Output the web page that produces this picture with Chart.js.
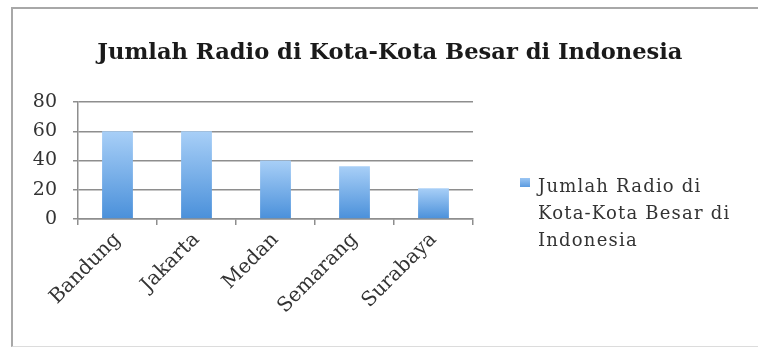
<!DOCTYPE html>
<html>
<head>
<meta charset="utf-8">
<script src="https://cdn.jsdelivr.net/npm/chart.js@4"></script>
<style>
    html, body { margin: 0; padding: 0; background: #fff; }
    #wrap { position: relative; width: 758px; height: 348px; overflow: hidden; }
    #frame {
        position: absolute; left: 11px; top: 7px; width: 760px; height: 340px;
        border-top: 2px solid #a8a8a8; border-left: 2px solid #a8a8a8;
        border-bottom: 1px solid #dcdcdc; box-sizing: border-box;
    }
    #moodChart { position: absolute; left: 0; top: 0; }
    #title {
        position: absolute; left: 11px; top: 37px; width: 758px; text-align: center;
        font-family: "DejaVu Serif", serif; font-weight: bold; font-size: 23px; line-height: 28px;
        color: #1a1a1a; white-space: nowrap;
    }
    #title span { display: inline-block; transform-origin: center; }
    #legend {
        position: absolute; left: 518px; top: 172px;
        font-family: "DejaVu Serif", serif; font-size: 18px; line-height: 27px; color: #333;
        letter-spacing: 1.2px;
    }
    #legend .box {
        position: absolute; left: 2px; top: 6px; width: 10px; height: 9px;
        background: linear-gradient(#9cc6f3, #5b9be0);
    }
    #legend .txt { margin-left: 20px; }
</style>
</head>
<body>
<div id="wrap">
    <div id="frame"></div>
    <canvas id="moodChart" width="758" height="348"></canvas>
    <div id="title"><span id="titleText"></span></div>
    <div id="legend"><span class="box"></span><div class="txt" id="legendText"></div></div>
</div>
<script>
const cities = ["Bandung", "Jakarta", "Medan", "Semarang", "Surabaya"];
const radioCounts = [60, 60, 40, 36, 21];
const yTicks = [0, 20, 40, 60, 80];
const chartTitle = "Jumlah Radio di Kota-Kota Besar di Indonesia";
const legendLines = ["Jumlah Radio di", "Kota-Kota Besar di", "Indonesia"];

document.getElementById("legendText").innerHTML = legendLines.join("<br>");

// title is stretched a bit wider, like the original
const titleSpan = document.getElementById("titleText");
titleSpan.textContent = chartTitle;
titleSpan.style.transform = "scaleX(" + (585 / titleSpan.offsetWidth).toFixed(3) + ")";

const serif = "'DejaVu Serif', serif";

// vertical gradient per bar, light on top
function barFill(context) {
    const chart = context.chart;
    if (!chart.chartArea) return "#6fa8e8";
    const y = chart.scales.y;
    const top = y.getPixelForValue(context.raw);
    const bottom = y.getPixelForValue(0);
    const g = chart.ctx.createLinearGradient(0, top, 0, bottom);
    g.addColorStop(0, "#a8cff7");
    g.addColorStop(1, "#4a90da");
    return g;
}

const ctx = document.getElementById("moodChart").getContext("2d");
let chart = new Chart(ctx, {
    type: "bar",
    data: {
        labels: cities,
        datasets: [{
            label: legendLines.join(" "),
            data: radioCounts,
            backgroundColor: barFill,
            borderWidth: 0,
            barPercentage: 0.39,
            categoryPercentage: 1
        }]
    },
    options: {
        responsive: false,
        animation: false,
        layout: { padding: { left: 0, right: 285, top: 102, bottom: 0 } },
        plugins: {
            legend: { display: false },
            tooltip: { enabled: false },
            title: { display: false }
        },
        scales: {
            x: {
                grid: {
                    offset: true,
                    drawOnChartArea: false,
                    drawTicks: true,
                    tickLength: 6,
                    color: "#8e8e8e",
                    lineWidth: 1.5
                },
                border: { color: "#8e8e8e", width: 1.5 },
                ticks: {
                    minRotation: 45,
                    maxRotation: 45,
                    padding: 3,
                    color: "#333",
                    font: { family: serif, size: 20 }
                },
                afterFit: scale => { scale.height = 129; }
            },
            y: {
                min: 0,
                max: 80,
                afterBuildTicks: scale => { scale.ticks = yTicks.map(v => ({ value: v })); },
                grid: { color: "#8e8e8e", lineWidth: 1.5, tickLength: 5 },
                border: { color: "#8e8e8e", width: 1.5 },
                ticks: {
                    padding: 16,
                    color: "#333",
                    font: { family: serif, size: 19 }
                },
                afterFit: scale => { scale.width = 78; }
            }
        }
    }
});
</script>
</body>
</html>
